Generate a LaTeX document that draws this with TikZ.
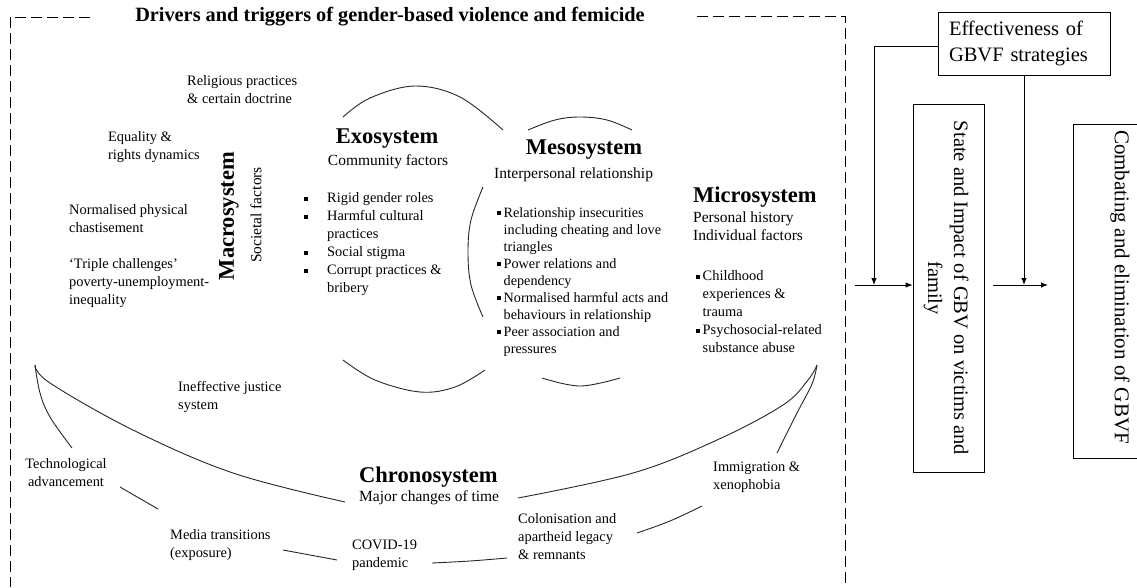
\documentclass[tikz,border=0pt]{standalone}
\usepackage{fontspec}
\setmainfont{Liberation Serif}
\usetikzlibrary{arrows.meta}
\newcommand\sqb{\raisebox{2.2pt}{\rule{3.5pt}{3.5pt}}}
\tikzset{
 body/.style={inner sep=0pt, align=left, font=\fontsize{14.4}{18}\selectfont, anchor=north west},
 head/.style={inner sep=0pt, font=\fontsize{22.5}{26}\selectfont\bfseries},
 sub/.style={inner sep=0pt, font=\fontsize{15.5}{18}\selectfont},
 big/.style={font=\fontsize{20.5}{26}\selectfont},
 arcline/.style={line width=0.9pt, black!85},
 frame/.style={dash pattern=on 11pt off 5pt, line width=0.9pt},
 arr/.style={line width=0.9pt, -{Latex[length=7pt,width=5.5pt]}},
 bx/.style={draw, line width=0.8pt, inner sep=0pt},
}
\begin{document}
\begin{tikzpicture}[x=1pt,y=-1pt]
\useasboundingbox (0,0) rectangle (1137,587);
% frame
\node[inner sep=0pt, font=\fontsize{20.3}{24}\selectfont\bfseries] (title) at (390,17) {Drivers and triggers of gender-based violence and femicide};
\draw[frame] (90,17) -- (10,17) -- (10,587);
\draw[frame] (697,16) -- (845,16) -- (845,587);
% macrosystem texts
\node[body] (rel) at (187,75) {Religious practices\\\& certain doctrine};
\node[body] (eq) at (108,131) {Equality \&\\rights dynamics};
\node[body] (np) at (69,204) {Normalised physical\\chastisement};
\node[body] (tc) at (69,258) {`Triple challenges'\\poverty-unemployment-\\inequality};
\node[body] (ij) at (178,381) {Ineffective justice\\system};
\node[head, rotate=90] (macro) at (229,216) {Macrosystem};
\node[sub, rotate=90] (macsub) at (256,215) {Societal factors};
% exosystem
\node[head] (exo) at (387,139) {Exosystem};
\node[sub] (exosub) at (388,162) {Community factors};
\node[body] (exol) at (304,190) {\begin{tabular}{@{}l@{\hspace{19.5pt}}l@{}}\sqb & Rigid gender roles\\ \sqb & Harmful cultural\\ & practices\\ \sqb & Social stigma\\ \sqb & Corrupt practices \&\\ & bribery\end{tabular}};
% mesosystem
\node[head] (meso) at (584,150) {Mesosystem};
\node[sub, anchor=west] (mesosub) at (494,175) {Interpersonal relationship};
\node[body, font=\fontsize{14.2}{17}\selectfont] (mesol) at (497,205) {\begin{tabular}{@{}l@{\hspace{3pt}}l@{}}\sqb & Relationship insecurities\\ & including cheating and love\\ & triangles\\ \sqb & Power relations and\\ & dependency\\ \sqb & Normalised harmful acts and\\ & behaviours in relationship\\ \sqb & Peer association and\\ & pressures\end{tabular}};
% microsystem
\node[head, anchor=west] (micro) at (693,197) {Microsystem};
\node[sub, anchor=north west, align=left] (microsub) at (693,212) {Personal history\\Individual factors};
\node[body] (microl) at (696,268) {\begin{tabular}{@{}l@{\hspace{3pt}}l@{}}\sqb & Childhood\\ & experiences \&\\ & trauma\\ \sqb & Psychosocial-related\\ & substance abuse\end{tabular}};
% chronosystem
\node[head, anchor=west] (chrono) at (359,477) {Chronosystem};
\node[sub, anchor=west] (chronosub) at (359,498) {Major changes of time};
\node[body, align=center, anchor=north] (tech) at (66,458) {Technological\\advancement};
\node[body] (media) at (170,529) {Media transitions\\(exposure)};
\node[body] (covid) at (352,540) {COVID-19\\pandemic};
\node[body] (colon) at (518,513) {Colonisation and\\apartheid legacy\\\& remnants};
\node[body] (immig) at (713,462) {Immigration \&\\xenophobia};
% arcs
\draw[arcline] plot[smooth, tension=0.6] coordinates {(343,117) (370,98) (415,86) (460,97) (503,130)};
\draw[arcline] plot[smooth, tension=0.6] coordinates {(343,360) (375,380) (420,392) (455,387) (485,370)};
\draw[arcline] plot[smooth, tension=0.6] coordinates {(528,130) (555,120) (580,117) (607,120) (632,130)};
\draw[arcline] plot[smooth, tension=0.6] coordinates {(483,187) (471,220) (468,252) (471,285) (483,317)};
\draw[arcline] plot[smooth, tension=0.6] coordinates {(542,378) (580,386) (620,378)};
\draw[arcline] plot[smooth, tension=0.6] coordinates {(35,365) (50,383) (133,430) (233,473) (345,502)};
\draw[arcline] plot[smooth, tension=0.6] coordinates {(35,365) (40,393) (50,417) (72,448)};
\draw[arcline] plot[smooth, tension=0.6] coordinates {(518,498) (633,473) (717,440) (783,405) (808,380) (817,365)};
\draw[arcline] plot[smooth, tension=0.6] coordinates {(817,365) (812,384) (797,413) (777,453)};
\draw[arcline] (120,487) -- (158,509);
\draw[arcline] (283,550) -- (337,560);
\draw[arcline] plot[smooth, tension=0.6] coordinates {(432,563) (470,561) (507,558)};
\draw[arcline] plot[smooth, tension=0.6] coordinates {(637,533) (670,521) (702,506)};
% right part
\node[bx, big, text width=150pt, align=left, inner xsep=11pt, minimum height=63pt] (eff) at (1024,43.5) {Effectiveness of\\GBVF strategies};
\node[bx, minimum width=71pt, minimum height=368pt] (state) at (948.5,288) {};
\node[rotate=-90, inner sep=0pt, align=center, big] (statetxt) at (946,288) {State and Impact of GBV on victims and\\family};
\node[bx, minimum width=94pt, minimum height=334pt] (comb) at (1120,291) {};
\node[rotate=-90, inner sep=0pt, font=\fontsize{21}{26}\selectfont] (combtxt) at (1120,287) {Combating and elimination of GBVF};
\coordinate (j1) at (874,285);
\coordinate (a1) at (855,285);
\coordinate (j2) at (1024,285);
\coordinate (a2) at (993,285);
\coordinate (a3) at (1048,285);
\draw[arr] ([yshift=-3pt]eff.west) -| (j1);
\draw[arr] (a1) -- (a1 -| state.west);
\draw[arr] (eff.south -| j2) -- (j2);
\draw[arr] (a2) -- (a3);
\end{tikzpicture}
\end{document}
